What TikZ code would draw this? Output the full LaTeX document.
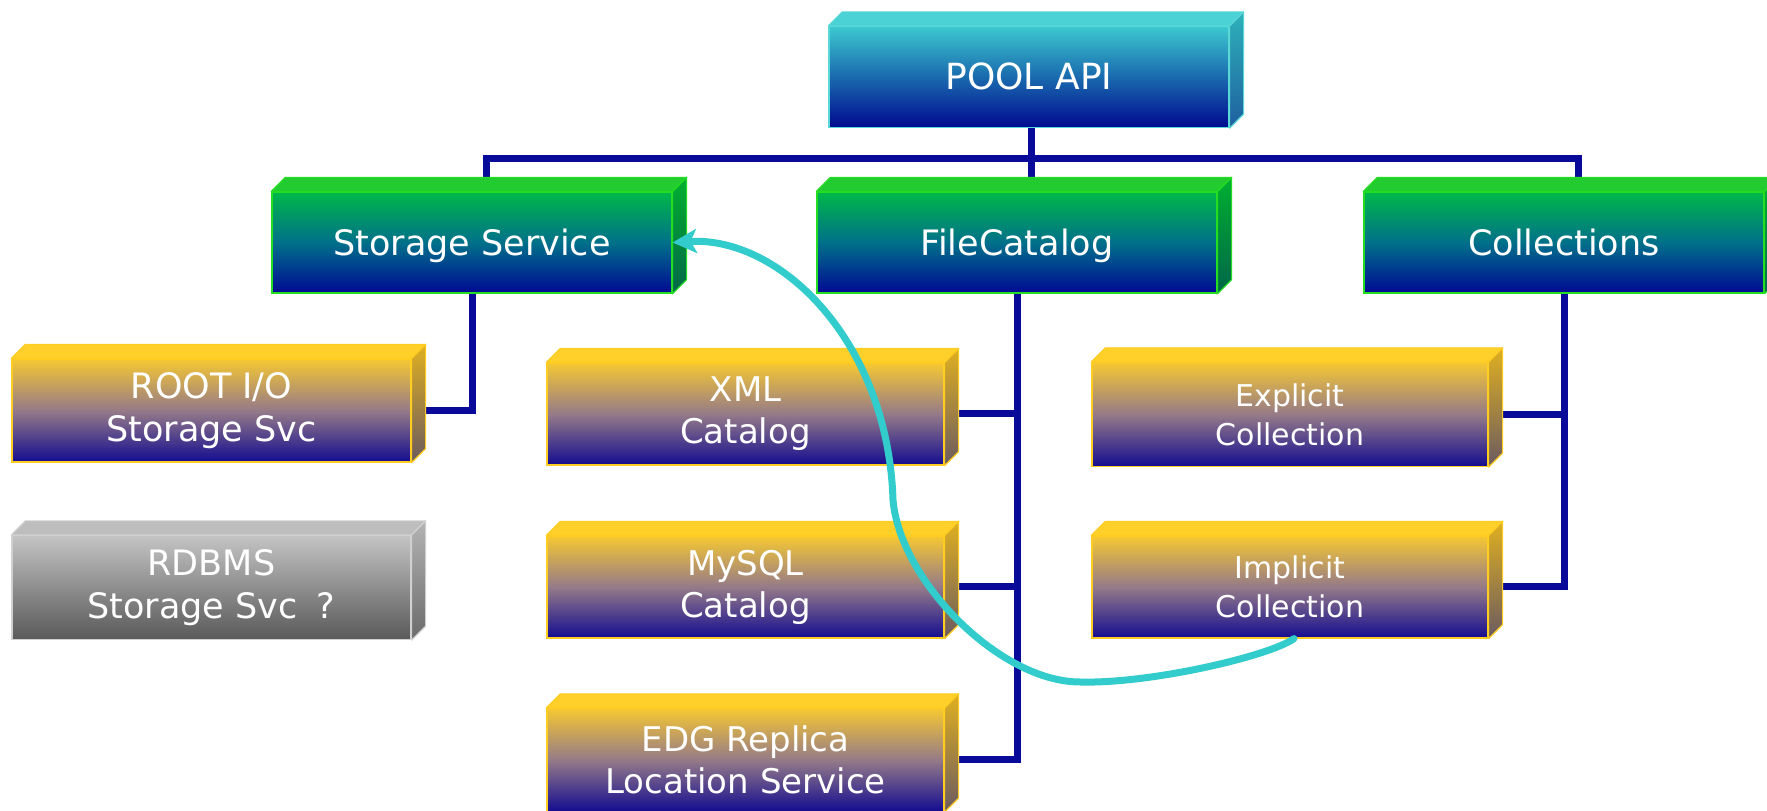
\documentclass[tikz,border=0pt]{standalone}
\usepackage{fontspec}
\setmainfont{DejaVu Sans}
\usetikzlibrary{arrows.meta,calc}
\pgfdeclarelayer{bg}
\pgfdeclarelayer{paper}
\pgfsetlayers{paper,bg,main}
\definecolor{navyline}{HTML}{0A0A9A}
\definecolor{turq}{HTML}{33CCCC}
% pool (cyan)
\definecolor{poolEdge}{HTML}{5AD8D8}
\definecolor{poolTop}{HTML}{3CC8D0}
\definecolor{poolMid}{HTML}{1A6AAE}
\definecolor{poolBot}{HTML}{000A90}
\definecolor{poolFace}{HTML}{4AD2D4}
\definecolor{poolSideA}{HTML}{2EB2BA}
\definecolor{poolSideB}{HTML}{1E5FA0}
% green
\definecolor{grnEdge}{HTML}{22DD22}
\definecolor{grnTop}{HTML}{00B848}
\definecolor{grnMid}{HTML}{00708A}
\definecolor{grnBot}{HTML}{000A92}
\definecolor{grnFace}{HTML}{22CC30}
\definecolor{grnSideA}{HTML}{00B030}
\definecolor{grnSideB}{HTML}{006648}
% gold
\definecolor{gldEdge}{HTML}{FFCC22}
\definecolor{gldTop}{HTML}{F6C832}
\definecolor{gldMid}{HTML}{957A88}
\definecolor{gldBot}{HTML}{140C90}
\definecolor{gldFace}{HTML}{FFD02A}
\definecolor{gldSideA}{HTML}{E0B020}
\definecolor{gldSideB}{HTML}{6A5A60}
% gray
\definecolor{gryEdge}{HTML}{D0D0D0}
\definecolor{gryTop}{HTML}{C4C4C4}
\definecolor{gryMid}{HTML}{8E8E8E}
\definecolor{gryBot}{HTML}{595959}
\definecolor{gryFace}{HTML}{BDBDBD}
\definecolor{grySideA}{HTML}{B4B4B4}
\definecolor{grySideB}{HTML}{6A6A6A}

\tikzset{
  box/.style={rectangle, inner sep=0pt, text=white, align=center,
    minimum width=400pt, minimum height=101pt, line width=1.2pt},
  poolbox/.style={box, draw=poolEdge, top color=poolTop, bottom color=poolBot, middle color=poolMid},
  grnbox/.style={box, draw=grnEdge, top color=grnTop, bottom color=grnBot, middle color=grnMid},
  gldbox/.style={box, draw=gldEdge, top color=gldTop, bottom color=gldBot, middle color=gldMid},
  grybox/.style={box, draw=gryEdge, top color=gryTop, bottom color=gryBot, middle color=gryMid},
  bigtxt/.style={font=\fontsize{35}{43}\selectfont, text height=25.5pt, text depth=0pt},
  midtxt/.style={font=\fontsize{34}{42}\selectfont},
  smalltxt/.style={font=\fontsize{30}{39}\selectfont},
  conn/.style={draw=navyline, line width=7pt},
  link/.style={draw=turq, line width=7pt, line cap=round,
    -{Stealth[length=24pt,width=24pt,inset=6pt]}},
}

\newcommand\slabfaces[5]{%
  \filldraw[draw=#2, fill=#3, line width=1.2pt, line join=round]
    (#1.north west) -- ++(14pt,14pt) -- ($(#1.north east)+(14pt,14pt)$)
    -- (#1.north east) -- cycle;
  \shadedraw[top color=#4, bottom color=#5, draw=#2, line width=1.2pt, line join=round]
    (#1.north east) -- ++(14pt,14pt) -- ($(#1.south east)+(14pt,14pt)$)
    -- (#1.south east) -- cycle;
}

\begin{document}
\begin{tikzpicture}[x=1pt,y=1pt]
\useasboundingbox (0,0) rectangle (1767,811);
\clip (0,0) rectangle (1767,811);
\begin{pgfonlayer}{paper}
  \fill[white] (0,0) rectangle (1767,811);
\end{pgfonlayer}

% nodes (front faces)
\node[poolbox, font=\fontsize{36}{43}\selectfont, text height=26pt, text depth=0pt] (pool) at (1029,734) {POOL API};
\node[grnbox, bigtxt] (ss)  at (472,568.5)  {Storage Service};
\node[grnbox, bigtxt] (fc)  at (1017,568.5) {FileCatalog};
\node[grnbox, bigtxt] (col) at (1564,568.5) {Collections};

\node[gldbox, bigtxt, text height=, text depth=, minimum width=399pt, minimum height=103pt] (root) at (211.5,400.5) {ROOT I/O\\Storage Svc};
\node[grybox, bigtxt, text height=, text depth=, minimum width=399pt, minimum height=104pt] (rdbms) at (211.5,223.5) {RDBMS\\Storage Svc\hspace{0.55em}?};

\node[gldbox, midtxt, minimum width=397pt, minimum height=102pt] (xml)   at (745.5,397) {XML\\Catalog};
\node[gldbox, midtxt, minimum width=397pt, minimum height=102pt] (mysql) at (745.5,224) {MySQL\\Catalog};
\node[gldbox, midtxt, minimum width=397pt, minimum height=103pt] (edg)   at (745.5,51)  {EDG Replica\\Location Service};

\node[gldbox, smalltxt, minimum width=396pt, minimum height=104pt] (explicit) at (1290,396.5) {Explicit\\Collection};
\node[gldbox, smalltxt, minimum width=396pt, minimum height=102pt] (implicit) at (1290,224) {Implicit\\Collection};

% 3D faces
\slabfaces{pool}{poolEdge}{poolFace}{poolSideA}{poolSideB}
\foreach \n in {ss,fc,col}{\slabfaces{\n}{grnEdge}{grnFace}{grnSideA}{grnSideB}}
\foreach \n in {root,xml,mysql,edg,explicit,implicit}{\slabfaces{\n}{gldEdge}{gldFace}{gldSideA}{gldSideB}}
\slabfaces{rdbms}{gryEdge}{gryFace}{grySideA}{grySideB}

% connectors
\begin{pgfonlayer}{bg}
  \coordinate (bus) at ($(fc.north)+(14pt,0)$);
  \coordinate (busy) at (0,652);
  \draw[conn] ([xshift=14pt]ss.north) |- (bus |- busy) -| ([xshift=14pt]col.north);
  \draw[conn] (pool.south -| bus) -- (bus);
  \draw[conn] (ss.south) |- (root.east);
  \draw[conn] (fc.south) |- (edg.east);
  \draw[conn] (fc.south |- xml.east) -- (xml.east);
  \draw[conn] (fc.south |- mysql.east) -- (mysql.east);
  \draw[conn] (col.south) |- (implicit.east);
  \draw[conn] (col.south |- explicit.east) -- (explicit.east);
\end{pgfonlayer}

% dependency curve
\draw[link] ([xshift=4pt]implicit.south) .. controls (1270,155) and (1150,127) .. (1080,129)
  .. controls (1000,129) and (900,230) .. (893,311)
  .. controls (888,470) and (780,575) .. (ss.east);
\end{tikzpicture}
\end{document}
